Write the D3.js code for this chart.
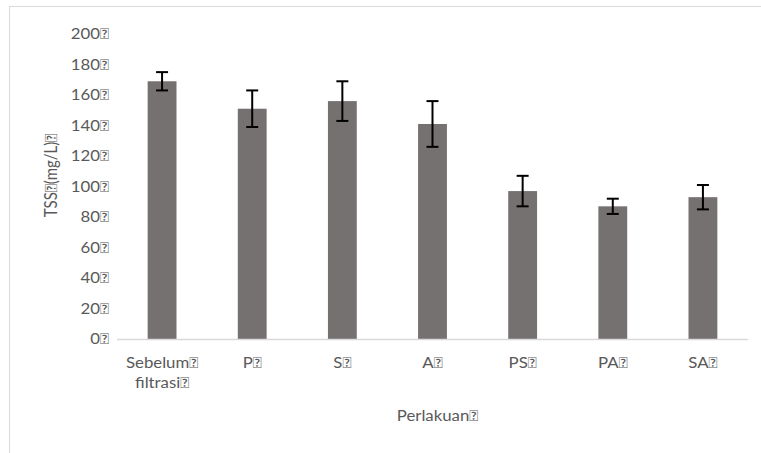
<!DOCTYPE html>
<html>
<head>
<meta charset="utf-8">
<script src="https://cdn.jsdelivr.net/npm/d3@7"></script>
<style>
  body { margin: 0; background: #fff; }
  text { font-family: Lato, "Open Sans", sans-serif; fill: #595959; }
</style>
</head>
<body>
<div id="container"></div>
<script>
// DATA
const BOX = "\uE000";
const categories = ["Sebelum filtrasi", "P", "S", "A", "PS", "PA", "SA"];
const tssMean = [169, 151, 156, 141, 97, 87, 93];
const tssErr = [6, 12, 13, 15, 10, 5, 8];
const yTicks = [0, 20, 40, 60, 80, 100, 120, 140, 160, 180, 200];

const data = categories.map((c, i) => ({ cat: c, mean: tssMean[i], err: tssErr[i] }));

// VARIABLES
const width = 761;
const height = 453;
const plot = { left: 117, right: 748, top: 34, bottom: 339 };
const fs = 15;        // font size
const stretch = 1.12; // the reference text is a bit wide

// SCALES
const xScale = d3.scaleBand()
  .domain(categories)
  .range([plot.left, plot.right])
  .paddingInner(0.68)
  .paddingOuter(0.34);

const yScale = d3.scaleLinear()
  .domain([0, 200])
  .range([plot.bottom, plot.top]);

// ELEMENTS
const svg = d3.select("#container")
  .append("svg")
  .attr("width", width)
  .attr("height", height);

// chart frame (runs off the page on the right and bottom)
svg.append("rect")
  .attr("x", 9.5)
  .attr("y", 6.5)
  .attr("width", 800)
  .attr("height", 500)
  .attr("fill", "none")
  .attr("stroke", "#d9d9d9");

// y axis (labels only)
const yAxis = svg.append("g")
  .attr("transform", `translate(${plot.left - 8},0)`)
  .call(d3.axisLeft(yScale).tickValues(yTicks).tickSize(0).tickPadding(0).tickFormat(d => d + BOX));
yAxis.select(".domain").remove();
yAxis.selectAll("text")
  .attr("font-size", fs)
  .attr("fill", "#595959")
  .attr("transform", `scale(${stretch},1)`)
  .style("font-family", "Lato, sans-serif");

// bars
svg.selectAll("rect.bar")
  .data(data)
  .join("rect")
  .attr("class", "bar")
  .attr("x", d => xScale(d.cat))
  .attr("width", xScale.bandwidth())
  .attr("y", d => yScale(d.mean))
  .attr("height", d => yScale(0) - yScale(d.mean))
  .attr("fill", "#767171");

// x axis line + labels
const xAxis = svg.append("g")
  .attr("transform", `translate(0,${plot.bottom})`)
  .call(d3.axisBottom(xScale).tickSize(0).tickSizeOuter(0).tickFormat(""));
xAxis.select(".domain")
  .attr("stroke", "#d9d9d9")
  .attr("stroke-width", 1.5)
  .attr("d", `M${plot.left},0.5H${plot.right}`);

const xLabels = svg.append("g").selectAll("text")
  .data(categories)
  .join("text")
  .attr("transform", d => `translate(${xScale(d) + xScale.bandwidth() / 2},368) scale(${stretch},1)`)
  .attr("text-anchor", "middle")
  .attr("font-size", fs);
xLabels.each(function(d) {
  const t = d3.select(this);
  d.split(" ").forEach((w, i) => {
    t.append("tspan")
      .attr("x", 0)
      .attr("dy", i === 0 ? 0 : 20)
      .text(w + BOX);
  });
});

// error bars
const errG = svg.append("g")
  .attr("stroke", "#000")
  .attr("stroke-width", 2);
const cap = 6;
errG.selectAll("g")
  .data(data)
  .join("g")
  .each(function(d) {
    const g = d3.select(this);
    const cx = xScale(d.cat) + xScale.bandwidth() / 2;
    const y1 = yScale(d.mean + d.err);
    const y0 = yScale(d.mean - d.err);
    g.append("line").attr("x1", cx).attr("x2", cx).attr("y1", y1).attr("y2", y0);
    g.append("line").attr("x1", cx - cap).attr("x2", cx + cap).attr("y1", y1).attr("y2", y1);
    g.append("line").attr("x1", cx - cap).attr("x2", cx + cap).attr("y1", y0).attr("y2", y0);
  });

// axis titles
svg.append("text")
  .attr("transform", `translate(57,${(plot.top + plot.bottom) / 2 - 11}) rotate(-90) scale(1,${stretch})`)
  .attr("text-anchor", "middle")
  .attr("font-size", fs)
  .text("TSS" + BOX + "(mg/L)" + BOX);

svg.append("text")
  .attr("transform", `translate(${(plot.left + plot.right) / 2 + 5},421) scale(${stretch},1)`)
  .attr("text-anchor", "middle")
  .attr("font-size", fs)
  .text("Perlakuan" + BOX);
</script>
</body>
</html>
